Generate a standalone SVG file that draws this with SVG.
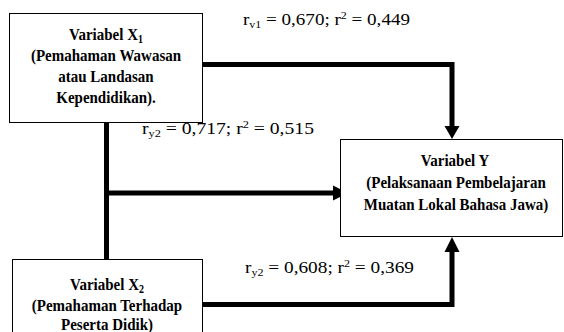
<svg xmlns="http://www.w3.org/2000/svg" width="564" height="332" viewBox="0 0 564 332">
<style>
.box{fill:#fff;stroke:#000;stroke-width:1}
.nt{font-family:"Liberation Serif","Times New Roman",serif;font-weight:bold;font-size:15px;text-anchor:middle;fill:#000}
.lb{font-family:"Liberation Serif","Times New Roman",serif;font-size:16px;fill:#000}
.sub{font-size:10px}
.ln{stroke:#000;stroke-width:5;fill:none;stroke-linecap:butt}
.ah{fill:#000}
</style>
<rect width="564" height="332" fill="#fff"/>
<g id="connectors">
<polyline class="ln" points="203,64.5 452,64.5 452,127"/>
<polygon class="ah" points="444.5,126 459.5,126 452,139"/>
<line class="ln" x1="106.5" y1="123" x2="106.5" y2="259"/>
<line class="ln" x1="104" y1="193" x2="334" y2="193"/>
<polygon class="ah" points="333,185.5 333,200.5 348,193"/>
<polyline class="ln" points="203,304.5 452,304.5 452,251"/>
<polygon class="ah" points="444.5,252 459.5,252 452,237"/>
</g>
<g id="nodeX1">
<rect class="box" x="9.5" y="13.5" width="193" height="109"/>
<text class="nt" transform="translate(106,40) scale(1,1.15)">Variabel X<tspan class="sub" dy="2.5">1</tspan></text>
<text class="nt" transform="translate(106,61) scale(1,1.15)">(Pemahaman Wawasan</text>
<text class="nt" transform="translate(106,82) scale(1,1.15)">atau Landasan</text>
<text class="nt" transform="translate(106,103) scale(1,1.15)">Kependidikan).</text>
</g>
<g id="nodeY">
<rect class="box" x="340.5" y="139.5" width="222" height="97"/>
<text class="nt" transform="translate(455,166) scale(1,1.15)">Variabel Y</text>
<text class="nt" transform="translate(456,188) scale(1,1.15)">(Pelaksanaan Pembelajaran</text>
<text class="nt" transform="translate(456,210) scale(1,1.15)">Muatan Lokal Bahasa Jawa)</text>
</g>
<g id="nodeX2">
<rect class="box" x="12.5" y="259.5" width="190" height="90"/>
<text class="nt" transform="translate(107,290) scale(1,1.15)">Variabel X<tspan class="sub" dy="2.5">2</tspan></text>
<text class="nt" transform="translate(107,311) scale(1,1.15)">(Pemahaman Terhadap</text>
<text class="nt" transform="translate(107,330) scale(1,1.15)">Peserta Didik)</text>
</g>
<g id="labels">
<text class="lb" x="243" y="25" textLength="167" lengthAdjust="spacingAndGlyphs">r<tspan class="sub" dy="3">v1</tspan><tspan dy="-3"> = 0,670; r</tspan><tspan class="sub" dy="-6">2</tspan><tspan dy="6"> = 0,449</tspan></text>
<text class="lb" x="142" y="134" textLength="172" lengthAdjust="spacingAndGlyphs">r<tspan class="sub" dy="3">y2</tspan><tspan dy="-3"> = 0,717; r</tspan><tspan class="sub" dy="-6">2</tspan><tspan dy="6"> = 0,515</tspan></text>
<text class="lb" x="245" y="273" textLength="169" lengthAdjust="spacingAndGlyphs">r<tspan class="sub" dy="3">y2</tspan><tspan dy="-3"> = 0,608; r</tspan><tspan class="sub" dy="-6">2</tspan><tspan dy="6"> = 0,369</tspan></text>
</g>
</svg>
